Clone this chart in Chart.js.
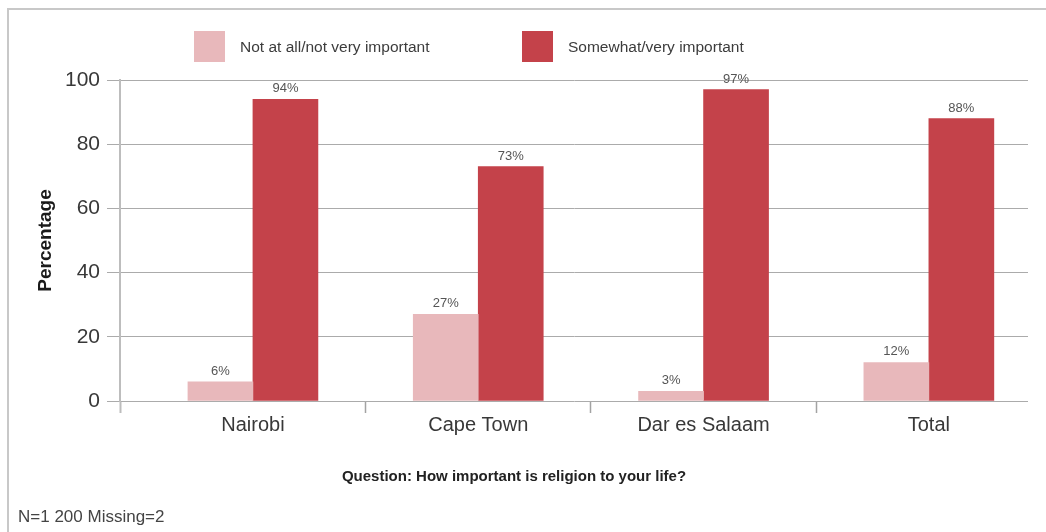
<!DOCTYPE html>
<html>
<head>
<meta charset="utf-8">
<title>How important is religion to your life?</title>
<script src="https://cdn.jsdelivr.net/npm/chart.js@4.4.1/dist/chart.umd.min.js"></script>
<style>
  body { margin: 0; background: #fff; font-family: "Liberation Sans", Arial, sans-serif; }
  #wrap { position: relative; width: 1046px; height: 532px; overflow: hidden; }
  /* only the top and left edges of the surrounding frame are visible in the figure */
  #frame { position: absolute; left: 7px; top: 8px; right: -10px; bottom: -10px;
           border-left: 2px solid #c8c8c8; border-top: 2px solid #c8c8c8; }
  #chart { position: absolute; left: 0; top: 0; }
  #legend { position: absolute; left: 194px; top: 31px; }
  #legend ul { list-style: none; margin: 0; padding: 0; display: flex; }
  #legend li { display: flex; align-items: center; height: 31px; }
  #legend li:first-child { width: 328px; }
  #legend .swatch { width: 31px; height: 31px; margin-right: 15px; flex: none; }
  #legend .label { font-size: 15.5px; color: #3c3c3c; white-space: nowrap; }
  #note { position: absolute; left: 18px; top: 507px; font-size: 17px; line-height: 20px; color: #444; }
</style>
</head>
<body>
<div id="wrap">
  <div id="frame"></div>
  <canvas id="chart" width="1046" height="532"></canvas>
  <div id="legend"><ul></ul></div>
  <div id="note">N=1 200 Missing=2</div>
</div>
<script>
// ---------------------------------------------------------------------------
// Data
// ---------------------------------------------------------------------------
const CATEGORIES = ["Nairobi", "Cape Town", "Dar es Salaam", "Total"];
const SERIES_NAMES = ["Not at all/not very important", "Somewhat/very important"];
const NOT_IMPORTANT = [6, 27, 3, 12];
const IMPORTANT = [94, 73, 97, 88];
const Y_TICKS = [0, 20, 40, 60, 80, 100];

const FONT_FAMILY = '"Liberation Sans", Arial, sans-serif';
const PINK = "#e8b8bb";
const RED = "#c4424a";
const GRID_COLOR = "#ababab";
const AXIS_COLOR = "#bdbdbd";
const TEXT_COLOR = "#383838";

Chart.defaults.font.family = FONT_FAMILY;

// The category axis is linear so the groups can sit a little right of the value axis,
// as in the original; labels go on whole numbers, separator ticks on the halves.
const X_MIN = -0.59;
const X_MAX = 3.44;
const X_TICK_VALUES = [X_MIN].concat(
    CATEGORIES.flatMap((_, i) => (i < CATEGORIES.length - 1 ? [i, i + 0.5] : [i]))
);

const toPoints = (values) => values.map((y, x) => ({ x, y }));

// Value printed above each bar ("94%").
const valueLabelsPlugin = {
    id: "valueLabels",
    afterDatasetsDraw(chart) {
        const { ctx } = chart;
        ctx.save();
        ctx.font = `13px ${FONT_FAMILY}`;
        ctx.fillStyle = "#555";
        ctx.textAlign = "center";
        ctx.textBaseline = "alphabetic";
        chart.data.datasets.forEach((dataset, di) => {
            chart.getDatasetMeta(di).data.forEach((bar, i) => {
                ctx.fillText(`${dataset.data[i].y}%`, bar.x, bar.y - 7);
            });
        });
        ctx.restore();
    },
};

// Legend built as HTML from the chart's own legend items (big square swatches, wide spacing).
const htmlLegendPlugin = {
    id: "htmlLegend",
    afterUpdate(chart) {
        const list = document.querySelector("#legend ul");
        list.innerHTML = "";
        chart.options.plugins.legend.labels.generateLabels(chart).forEach((item) => {
            const li = document.createElement("li");
            const box = document.createElement("span");
            box.className = "swatch";
            box.style.background = item.fillStyle;
            const text = document.createElement("span");
            text.className = "label";
            text.textContent = item.text;
            li.append(box, text);
            list.appendChild(li);
        });
    },
};

new Chart(document.getElementById("chart"), {
    type: "bar",
    data: {
        datasets: [
            { label: SERIES_NAMES[0], data: toPoints(NOT_IMPORTANT), backgroundColor: PINK },
            { label: SERIES_NAMES[1], data: toPoints(IMPORTANT), backgroundColor: RED },
        ],
    },
    options: {
        responsive: false,
        animation: false,
        // The separator ticks would halve the automatic bar size, so the width is fixed.
        barThickness: 65,
        layout: { padding: { top: 80, right: 18, bottom: 0, left: 0 } },
        scales: {
            x: {
                type: "linear",
                offset: false,
                min: X_MIN,
                max: X_MAX,
                afterBuildTicks(scale) {
                    scale.ticks = X_TICK_VALUES.map((value) => ({ value }));
                },
                ticks: {
                    autoSkip: false,
                    maxRotation: 0,
                    padding: 0,
                    color: TEXT_COLOR,
                    font: { size: 20 },
                    callback: (value) => (Number.isInteger(value) && value >= 0 ? CATEGORIES[value] : ""),
                },
                grid: {
                    offset: false,
                    drawOnChartArea: false,
                    drawTicks: true,
                    tickLength: 12,
                    tickWidth: (ctx) => (ctx.tick && ctx.tick.value === X_MIN ? 2 : 1.5),
                    tickColor: (ctx) => {
                        const v = ctx.tick ? ctx.tick.value : 0;
                        if (v === X_MIN) return AXIS_COLOR;
                        return Number.isInteger(v) ? "rgba(0,0,0,0)" : "#a3a3a3";
                    },
                },
                border: { display: false },
            },
            y: {
                min: Y_TICKS[0],
                max: Y_TICKS[Y_TICKS.length - 1],
                afterBuildTicks(scale) {
                    scale.ticks = Y_TICKS.map((value) => ({ value }));
                },
                afterFit(scale) {
                    scale.width = 120;
                },
                title: {
                    display: true,
                    text: "Percentage",
                    color: "#1a1a1a",
                    font: { size: 19, weight: "bold" },
                    padding: { top: 34, bottom: 0 },
                },
                ticks: { color: TEXT_COLOR, font: { size: 21 }, padding: 7 },
                grid: { color: GRID_COLOR, lineWidth: 1, tickLength: 13, tickColor: GRID_COLOR },
                border: { display: true, color: AXIS_COLOR, width: 2 },
            },
        },
        plugins: {
            legend: { display: false },
            tooltip: { enabled: false },
            title: {
                display: true,
                position: "bottom",
                text: "Question: How important is religion to your life?",
                color: "#222",
                font: { size: 15, weight: "bold" },
                padding: { top: 31, bottom: 46 },
            },
        },
    },
    plugins: [valueLabelsPlugin, htmlLegendPlugin],
});
</script>
</body>
</html>
